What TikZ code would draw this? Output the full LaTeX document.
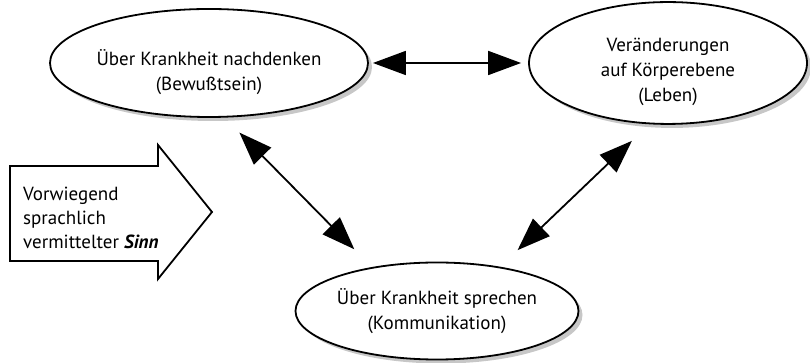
\documentclass[tikz,border=0pt]{standalone}
\usepackage{fontspec}
\setmainfont{PT Sans}
\usetikzlibrary{shapes.geometric,arrows.meta,shadows}

\begin{document}
\begin{tikzpicture}[x=1pt,y=1pt,
	feld/.style={ellipse, draw, line width=1.8pt, fill=white, inner sep=0pt, align=center,
		font=\fontsize{19}{25}\selectfont,
		drop shadow={shadow xshift=4pt, shadow yshift=-4pt, fill=black!22, opacity=1}},
	pfeil/.style={line width=1.8pt, {Triangle[length=33pt,width=24pt]}-{Triangle[length=33pt,width=24pt]}}]
	\useasboundingbox (0,0) rectangle (810,363);
	% die drei Ebenen
	\node[feld, minimum width=284pt, minimum height=108pt] (bewusst) at (209,300) {\rule{0pt}{34pt}Über Krankheit nachdenken\\(Bewußtsein)};
	\node[feld, minimum width=278pt, minimum height=104pt] (leben) at (668,300) {\rule{0pt}{32pt}Veränderungen\\auf Körperebene\\(Leben)};
	\node[feld, minimum width=282pt, minimum height=97pt] (komm) at (437,52) {Über Krankheit sprechen\\(Kommunikation)};
	% Verbindungen
	\draw[pfeil, shorten <=4pt, shorten >=7pt] (bewusst.east) -- (leben.west);
	\draw[pfeil, shorten <=21pt, shorten >=25pt] (bewusst.-74) -- (komm.146);
	\draw[pfeil, shorten <=24pt, shorten >=24pt] (leben.-107) -- (komm.35);
	% Pfeil links
	\draw[line width=1.8pt] (10,197) -- (158,197) -- (158,218) -- (212,151) -- (158,84) -- (158,102) -- (10,102) -- cycle;
	\node[anchor=west, align=left, inner sep=0pt, font=\fontsize{19}{24}\selectfont] (sinn) at (23,145) {Vorwiegend\\sprachlich\\vermittelter \textbf{\textit{Sinn}}};
\end{tikzpicture}
\end{document}
